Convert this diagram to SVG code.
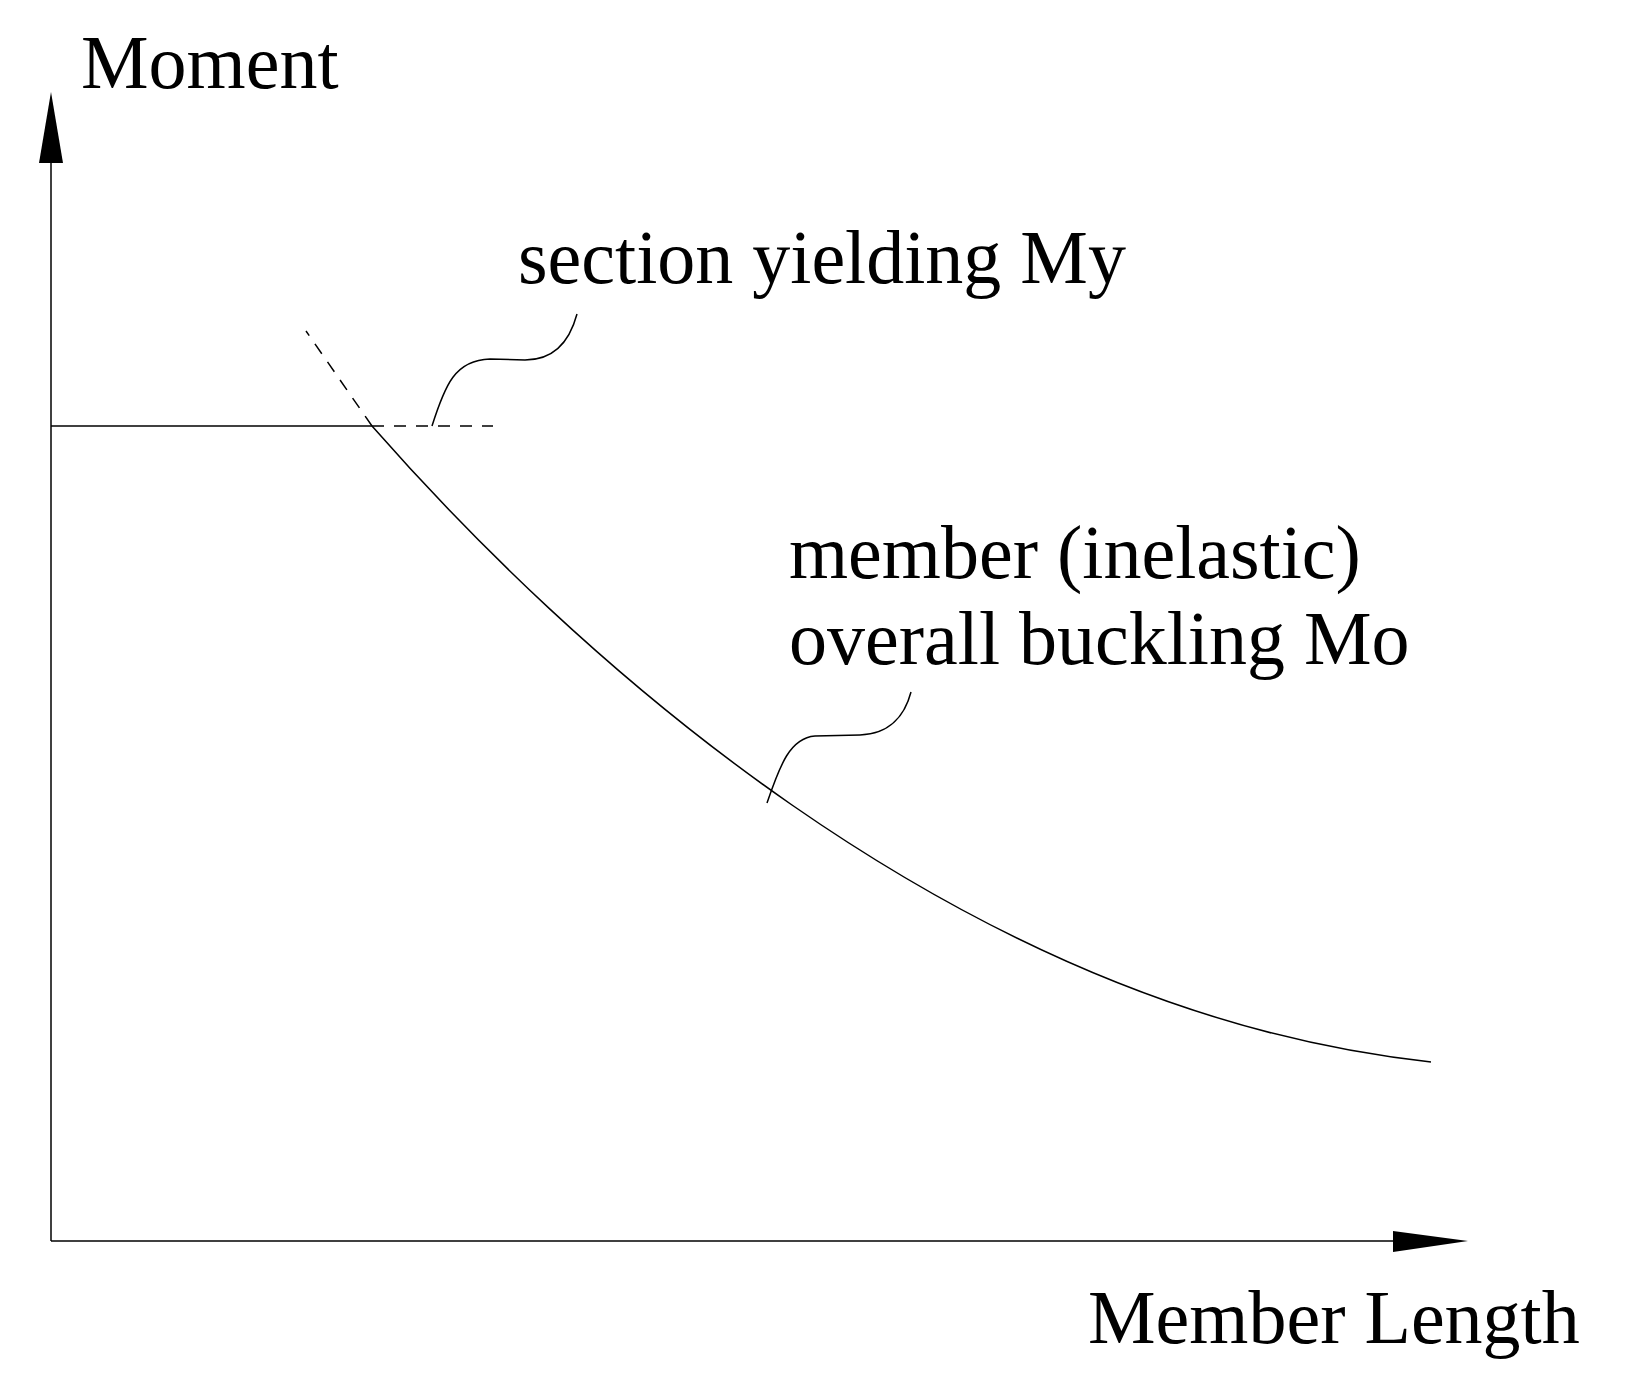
<svg xmlns="http://www.w3.org/2000/svg" width="1632" height="1394" viewBox="0 0 1632 1394">
<style>
text{font-family:"Liberation Serif","Times New Roman",serif;font-size:76px;fill:#000}
.l{fill:none;stroke:#000;stroke-width:1.5}
.d{stroke-dasharray:12,10}
</style>
<rect width="1632" height="1394" fill="#fff"/>
<g id="connectors">
<line class="l" x1="51" y1="1241" x2="51" y2="160"/>
<polygon points="51,92 39,163 63,163"/>
<line class="l" x1="51" y1="1241" x2="1396" y2="1241"/>
<polygon points="1468,1241 1393,1231 1393,1252"/>
<line class="l" x1="51" y1="426" x2="372" y2="426"/>
<line class="l d" x1="372" y1="426" x2="493" y2="426"/>
<path class="l d" d="M372,426 L306,331"/>
<path class="l" d="M372,426 C560,640 950,1010 1431,1062"/>
<path class="l" d="M432,426 C445,385 455,360 490,359 L525,360 C555,360 570,340 577,314"/>
<path class="l" d="M767,803 C780,765 790,738 815,736 L860,735 C890,734 905,715 911,692"/>
</g>
<g id="labels">
<text x="81" y="88">Moment</text>
<text x="518" y="283">section yielding My</text>
<text x="789" y="578">member (inelastic)</text>
<text x="789" y="664">overall buckling Mo</text>
<text x="1088" y="1343">Member Length</text>
</g>
</svg>
